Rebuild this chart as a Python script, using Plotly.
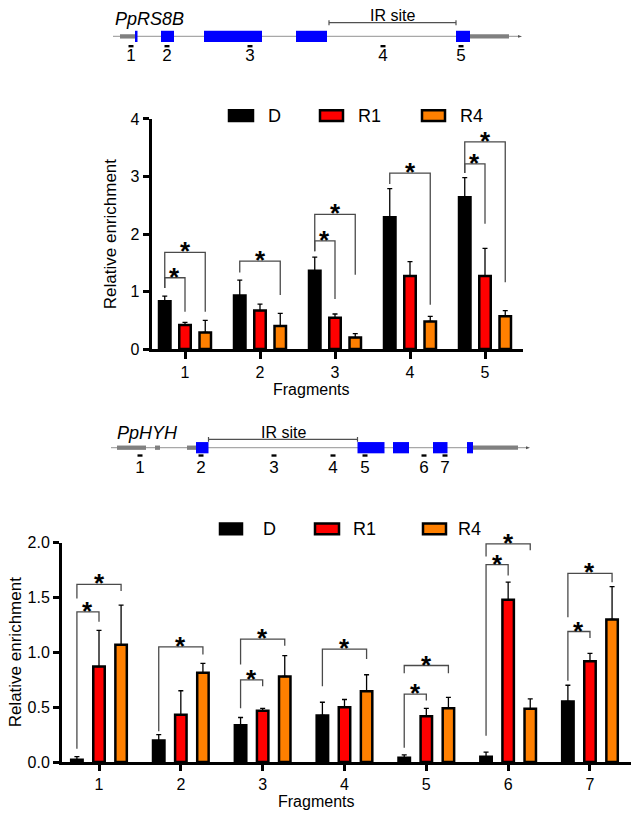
import plotly.graph_objects as go

W, H = 633, 820
FONT = "Arial, Liberation Sans, Helvetica, sans-serif"

# ---------------- data ----------------
series = ["D", "R1", "R4"]
series_colors = ["#000000", "#FF0000", "#FF8000"]

# Chart A : PpRS8B
a_fragments = [1, 2, 3, 4, 5]
a_D = [0.83, 0.93, 1.36, 2.29, 2.64]
a_D_err = [0.09, 0.27, 0.24, 0.50, 0.34]
a_R1 = [0.42, 0.67, 0.545, 1.27, 1.27]
a_R1_err = [0.045, 0.11, 0.065, 0.25, 0.48]
a_R4 = [0.29, 0.40, 0.20, 0.48, 0.57]
a_R4_err = [0.21, 0.22, 0.07, 0.09, 0.10]
a_yticks = [0, 1, 2, 3, 4]
# significance brackets: (fragment, compared series index, bracket top, left leg end, right leg end)
a_sig = [
    (1, 1, 1.24, 1.06, 0.65), (1, 2, 1.68, 1.06, 0.65),
    (2, 2, 1.53, 1.33, 0.94),
    (3, 1, 1.88, 1.70, 0.87), (3, 2, 2.34, 1.70, 1.29),
    (4, 2, 3.06, 2.87, 0.77),
    (5, 1, 3.22, 3.06, 2.18), (5, 2, 3.60, 3.06, 1.16),
]

# Chart B : PpHYH
b_fragments = [1, 2, 3, 4, 5, 6, 7]
b_D = [0.02, 0.196, 0.336, 0.425, 0.04, 0.048, 0.553]
b_D_err = [0.03, 0.054, 0.07, 0.12, 0.025, 0.042, 0.147]
b_R1 = [0.87, 0.43, 0.467, 0.50, 0.417, 1.48, 0.92]
b_R1_err = [0.33, 0.22, 0.023, 0.07, 0.073, 0.16, 0.07]
b_R4 = [1.07, 0.815, 0.78, 0.646, 0.49, 0.485, 1.30]
b_R4_err = [0.36, 0.085, 0.19, 0.15, 0.10, 0.09, 0.30]
b_yticks = [0, 0.5, 1.0, 1.5, 2.0]
b_sig = [
    (1, 1, 1.37, 0.12, 1.28), (1, 2, 1.62, 1.49, 1.56),
    (2, 2, 1.05, 0.28, 0.98),
    (3, 1, 0.75, 0.49, 0.69), (3, 2, 1.12, 0.89, 1.06),
    (4, 2, 1.03, 0.69, 0.94),
    (5, 1, 0.62, 0.13, 0.56), (5, 2, 0.88, 0.81, 0.81),
    (6, 1, 1.80, 0.24, 1.70), (6, 2, 1.99, 1.875, 1.93),
    (7, 1, 1.19, 0.74, 1.13), (7, 2, 1.72, 1.32, 1.64),
]

x_title = "Fragments"
y_title = "Relative enrichment"
sig_mark = "*"

# Gene diagrams (diagram units)
rs8b_name = "PpRS8B"
rs8b_span = (113, 519)
rs8b_utr = [(120, 135), (470, 509)]
rs8b_exons = [(135, 137.5), (161, 174), (204, 262), (296, 327), (456, 470)]
rs8b_ir = (329, 456)
rs8b_frag_x = [131, 167, 250, 383, 461]
rs8b_frag_labels = ["1", "2", "3", "4", "5"]

hyh_name = "PpHYH"
hyh_span = (111, 527)
hyh_utr = [(117, 146), (155, 160), (187, 196), (473, 518)]
hyh_exons = [(196, 208.5), (357.5, 384.5), (393, 409), (433, 447.5), (467, 473)]
hyh_ir = (208.5, 357.5)
hyh_frag_x = [140, 201, 274, 333, 365, 424, 445]
hyh_frag_labels = ["1", "2", "3", "4", "5", "6", "7"]
ir_label = "IR site"


# ---------------- layout helpers (page pixels -> paper) ----------------
def px(t):
    return t / W


def py(t):
    return 1 - t / H


fig = go.Figure()
shapes = []
annotations = []

offsets = [-0.27, 0.0, 0.27]


def add_chart(frags, vals, errs, xa, ya, width, sig):
    for i, name in enumerate(series):
        fig.add_trace(go.Bar(
            x=frags, y=vals[i], name=name, showlegend=False,
            xaxis=xa, yaxis=ya,
            width=width, offset=offsets[i] - width / 2,
            marker=dict(color=series_colors[i], line=dict(color="black", width=2.5)),
            error_y=dict(type="data", symmetric=False, array=errs[i],
                         arrayminus=[0] * len(frags), color="black",
                         thickness=1.3, width=2.5),
            hoverinfo="skip",
        ))
    for frag, si, top, lb, rb in sig:
        xl = frag + offsets[0]
        xrr = frag + offsets[si]
        shapes.append(dict(type="path", xref=xa, yref=ya,
                           path=f"M {xl},{lb} L {xl},{top} L {xrr},{top} L {xrr},{rb}",
                           line=dict(color="#4a4a4a", width=1.3)))
        annotations.append(dict(x=(xl + xrr) / 2, y=top, xref=xa, yref=ya,
                                text=f"<b>{sig_mark}</b>", showarrow=False,
                                xanchor="center", yanchor="middle", yshift=1,
                                font=dict(family=FONT, size=26, color="black")))


add_chart(a_fragments, [a_D, a_R1, a_R4], [a_D_err, a_R1_err, a_R4_err],
          "x", "y", 0.153, a_sig)
add_chart(b_fragments, [b_D, b_R1, b_R4], [b_D_err, b_R1_err, b_R4_err],
          "x2", "y2", 0.14, b_sig)


# legends (manual, wide boxes)
def add_legend(yc, boxes, texts):
    for i, name in enumerate(series):
        x0, x1 = boxes[i]
        shapes.append(dict(type="rect", xref="paper", yref="paper",
                           x0=px(x0), x1=px(x1), y0=py(yc + 5.5), y1=py(yc - 5.5),
                           fillcolor=series_colors[i], line=dict(color="black", width=2.5)))
        annotations.append(dict(x=px(texts[i]), y=py(yc), xref="paper", yref="paper",
                                text=name, showarrow=False, xanchor="left", yanchor="middle",
                                font=dict(family=FONT, size=18, color="black")))


add_legend(110, [(229, 253), (320, 343), (422, 445)], [266, 356, 458])
add_legend(532, [(220, 242), (315, 339), (423, 446)], [261, 351, 456])

# axis titles
annotations.append(dict(x=px(311), y=py(390), xref="paper", yref="paper", text=x_title,
                        showarrow=False, xanchor="center", yanchor="middle",
                        font=dict(family=FONT, size=16, color="black")))
annotations.append(dict(x=px(316), y=py(810), xref="paper", yref="paper", text=x_title,
                        showarrow=False, xanchor="center", yanchor="middle", borderpad=0,
                        font=dict(family=FONT, size=16, color="black")))
annotations.append(dict(x=px(110), y=py(231), xref="paper", yref="paper", text=y_title,
                        textangle=-90, showarrow=False, xanchor="center", yanchor="middle",
                        font=dict(family=FONT, size=17, color="black")))
annotations.append(dict(x=px(15), y=py(658), xref="paper", yref="paper", text=y_title,
                        textangle=-90, showarrow=False, xanchor="center", yanchor="middle",
                        font=dict(family=FONT, size=17, color="black")))


# gene diagrams on an overlay axis pair expressed in page pixels
def add_gene(xa, ya, name, name_xy, span, line_y, utr, exons, ex_h, ir, ir_y, ir_text_y,
             frag_x, frag_labels, frag_y, label_y):
    shapes.append(dict(type="line", xref=xa, yref=ya, x0=span[0], x1=span[1], y0=line_y, y1=line_y,
                       line=dict(color="#a8a8a8", width=1.2)))
    shapes.append(dict(type="path", xref=xa, yref=ya,
                       path=f"M {span[1]-1},{line_y-1.5} L {span[1]+3},{line_y} L {span[1]-1},{line_y+1.5} Z",
                       fillcolor="#555555", line=dict(width=0)))
    for a, b in utr:
        shapes.append(dict(type="rect", xref=xa, yref=ya, x0=a, x1=b, y0=line_y - 2.2, y1=line_y + 2.2,
                           fillcolor="#808080", line=dict(width=0)))
    for a, b in exons:
        shapes.append(dict(type="rect", xref=xa, yref=ya, x0=a, x1=b, y0=line_y - ex_h / 2,
                           y1=line_y + ex_h / 2, fillcolor="#0000FF", line=dict(width=0)))
    shapes.append(dict(type="path", xref=xa, yref=ya,
                       path=f"M {ir[0]},{ir_y-2.5} L {ir[0]},{ir_y+2.5} M {ir[0]},{ir_y} L {ir[1]},{ir_y} "
                            f"M {ir[1]},{ir_y-2.5} L {ir[1]},{ir_y+2.5}",
                       line=dict(color="#505050", width=1.2)))
    annotations.append(dict(x=(ir[0] + ir[1]) / 2, y=ir_text_y, xref=xa, yref=ya, text=ir_label,
                            showarrow=False, xanchor="center", yanchor="middle",
                            font=dict(family=FONT, size=16, color="black")))
    annotations.append(dict(x=name_xy[0], y=name_xy[1], xref=xa, yref=ya, text=f"<i>{name}</i>",
                            showarrow=False, xanchor="left", yanchor="middle",
                            font=dict(family=FONT, size=18, color="black")))
    for fxp in frag_x:
        shapes.append(dict(type="rect", xref=xa, yref=ya, x0=fxp - 2.5, x1=fxp + 2.5,
                           y0=frag_y - 1.2, y1=frag_y + 1.2, fillcolor="black", line=dict(width=0)))
    fig.add_trace(go.Scatter(x=frag_x, y=[label_y] * len(frag_x), text=frag_labels, mode="text",
                             textposition="middle center", xaxis=xa, yaxis=ya, showlegend=False,
                             hoverinfo="skip", cliponaxis=False,
                             textfont=dict(family=FONT, size=17, color="black")))


add_gene("x3", "y3", rs8b_name, (113, 11), rs8b_span, 29, rs8b_utr, rs8b_exons, 11.5,
         rs8b_ir, 15, 8, rs8b_frag_x, rs8b_frag_labels, 39, 50)
add_gene("x3", "y3", hyh_name, (115, 434), hyh_span, 449, hyh_utr, hyh_exons, 11.5,
         hyh_ir, 440.5, 433, hyh_frag_x, hyh_frag_labels, 457, 470)

common = dict(showline=True, linewidth=3, linecolor="black", ticks="outside", tickwidth=3,
              tickcolor="black", showgrid=False, zeroline=False,
              tickfont=dict(family=FONT, size=16, color="black"))

# chart A x geometry (page px): axis 151.7..522.7, fragment 1 at 185, 75 px per fragment
a_l, a_r, a_1, a_sp = 151.7, 522.7, 185.0, 75.0
# chart B x geometry: axis 62..631, fragment 1 at 99, 81.83 px per fragment
b_l, b_r, b_1, b_sp = 62.0, 631.0, 99.0, 81.83

fig.update_layout(
    autosize=True,
    margin=dict(l=0, r=0, t=0, b=0, pad=0),
    paper_bgcolor="white", plot_bgcolor="rgba(0,0,0,0)",
    barmode="overlay", showlegend=False,
    xaxis=dict(common, domain=[px(a_l), px(a_r)],
               range=[1 + (a_l - a_1) / a_sp, 1 + (a_r - a_1) / a_sp],
               tickvals=a_fragments, ticklen=7, anchor="y"),
    yaxis=dict(common, domain=[py(348.3), py(113.3)], range=[0, 4],
               tickvals=a_yticks, ticklen=6, anchor="x"),
    xaxis2=dict(common, domain=[px(b_l), px(b_r)],
                range=[1 + (b_l - b_1) / b_sp, 1 + (b_r - b_1) / b_sp],
                tickvals=b_fragments, ticklen=6, anchor="y2"),
    yaxis2=dict(common, domain=[py(770), py(546)], range=[0, 2],
                tickvals=b_yticks, tickformat=".1f", ticklen=6, anchor="x2"),
    xaxis3=dict(domain=[0, 1], range=[0, W], visible=False, anchor="y3"),
    yaxis3=dict(domain=[0, 1], range=[H, 0], visible=False, anchor="x3"),
    shapes=shapes, annotations=annotations,
)

# the plot div is pinned to the page corner so the browser's default body margin does not shift it
fig.write_html("out.html", config={"displayModeBar": False, "responsive": False},
               default_width=f"{W}px;position:absolute;left:0px;top:0px",
               default_height=f"{H}px",
               post_script="document.body.style.margin='0';document.body.style.overflow='hidden';")
